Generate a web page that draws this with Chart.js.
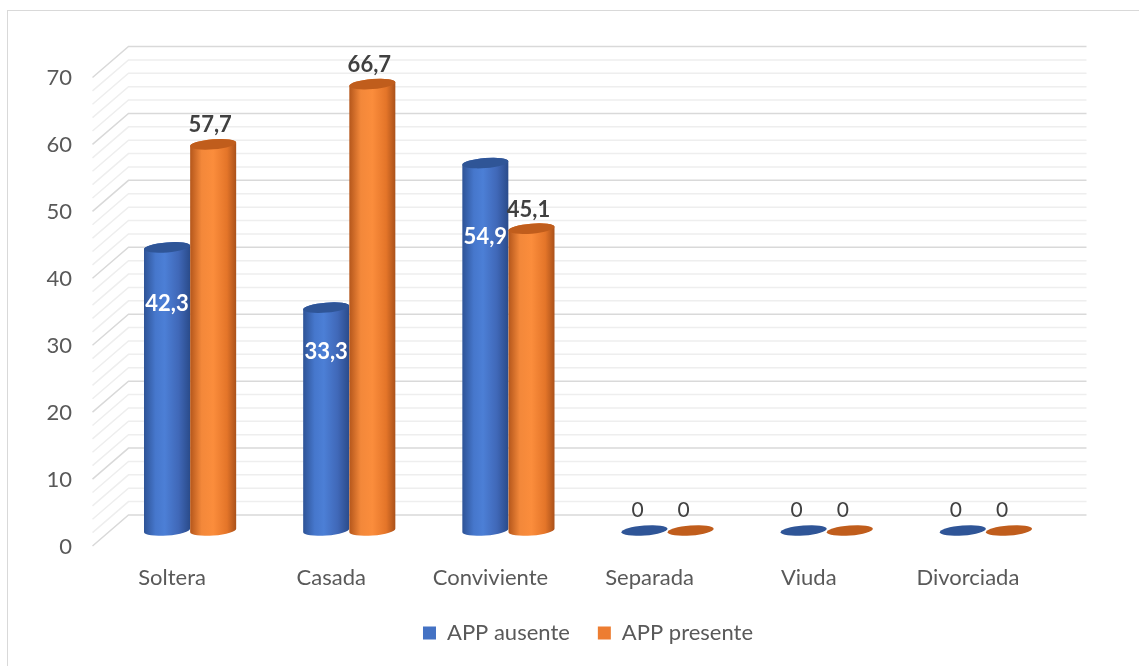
<!DOCTYPE html>
<html>
<head>
<meta charset="utf-8">
<script src="https://cdn.jsdelivr.net/npm/chart.js@4.4.0/dist/chart.umd.min.js"></script>
<style>
  html, body { margin: 0; padding: 0; background: #fff; overflow: hidden; }
  #frame { position: absolute; left: 7px; top: 10px; width: 1200px; height: 700px; border: 1px solid #d9d9d9; }
  #wrap { position: absolute; left: 0; top: 0; width: 1139px; height: 666px; }
</style>
</head>
<body>
<div id="frame"></div>
<div id="wrap"><canvas id="chart"></canvas></div>
<script>
const categories = ["Soltera", "Casada", "Conviviente", "Separada", "Viuda", "Divorciada"];
const appAusente = [42.3, 33.3, 54.9, 0, 0, 0];
const appPresente = [57.7, 66.7, 45.1, 0, 0, 0];
const seriesNames = ["APP ausente", "APP presente"];
const yMax = 70;
const yStep = 10;
const yMinorStep = 2;

const textColor = "#595959";
const fontFamily = "Lato, 'Open Sans', sans-serif";

// colours for the cylinders: side gradient + cap
const palettes = [
  {
    legend: "#4472c4",
    cap: "#2f5597",
    body: [[0, "#2e5396"], [0.25, "#4677cc"], [0.45, "#4c7fd6"], [0.75, "#4068b8"], [1, "#2a4b8a"]]
  },
  {
    legend: "#ed7d31",
    cap: "#c05d1c",
    body: [[0, "#b4561b"], [0.25, "#f3883a"], [0.5, "#fb8d3c"], [0.8, "#e47529"], [1, "#aa511a"]]
  }
];

// half depth of the 3D box (back wall / front edge offset)
const depth = { dx: 18, dy: 15.5 };

function fmt(v) {
  return v === 0 ? "0" : v.toFixed(1).replace(".", ",");
}

function drawCylinder(ctx, x, top, base, w, pal) {
  const rx = w / 2, ry = 5, tilt = -0.08;
  if (base - top > 0.5) {
    const g = ctx.createLinearGradient(x - rx, 0, x + rx, 0);
    pal.body.forEach(([o, c]) => g.addColorStop(o, c));
    ctx.fillStyle = g;
    ctx.beginPath();
    ctx.ellipse(x, base, rx, ry, tilt, 0, Math.PI);
    ctx.ellipse(x, top, rx, ry, tilt, Math.PI, Math.PI * 2);
    ctx.closePath();
    ctx.fill();
  }
  ctx.fillStyle = pal.cap;
  ctx.beginPath();
  ctx.ellipse(x, top, rx, ry, tilt, 0, Math.PI * 2);
  ctx.fill();
}

const cylinder3d = {
  id: "cylinder3d",
  beforeDatasetsDraw(chart) {
    const { ctx, chartArea: a, scales: { y } } = chart;
    ctx.save();
    ctx.lineWidth = 1.5;
    for (let v = 0; v <= yMax; v += yMinorStep) {
      const py = y.getPixelForValue(v);
      ctx.strokeStyle = v % yStep === 0 ? "#d9d9d9" : "#eeeeee";
      ctx.beginPath();
      ctx.moveTo(a.left - depth.dx, py + depth.dy);
      ctx.lineTo(a.left + depth.dx, py - depth.dy);
      ctx.lineTo(a.right + depth.dx + 3, py - depth.dy);
      ctx.stroke();
    }
    ctx.restore();
  },
  afterDatasetsDraw(chart) {
    const { ctx, scales: { y } } = chart;
    ctx.save();
    chart.data.datasets.forEach((ds, di) => {
      const meta = chart.getDatasetMeta(di);
      meta.data.forEach((bar) => {
        const p = bar.getProps(["x", "y", "base", "width"], true);
        drawCylinder(ctx, p.x, p.y, p.base, p.width, palettes[di]);
      });
    });
    // data labels
    ctx.textAlign = "center";
    ctx.textBaseline = "middle";
    chart.data.datasets.forEach((ds, di) => {
      const meta = chart.getDatasetMeta(di);
      meta.data.forEach((bar, i) => {
        const v = ds.data[i];
        const p = bar.getProps(["x", "y", "base"], true);
        if (v === 0) {
          ctx.font = "21px " + fontFamily;
          ctx.fillStyle = "#404040";
          ctx.fillText(fmt(v), p.x - 7, p.base - 20);
        } else if (di === 0) {
          ctx.font = "bold 22px " + fontFamily;
          ctx.fillStyle = "#ffffff";
          ctx.fillText(fmt(v), p.x, y.getPixelForValue(v * 0.8));
        } else {
          ctx.font = "bold 22px " + fontFamily;
          ctx.fillStyle = "#404040";
          ctx.fillText(fmt(v), p.x - 3, p.y - 19);
        }
      });
    });
    ctx.restore();
  }
};

new Chart(document.getElementById("chart"), {
  type: "bar",
  data: {
    labels: categories,
    datasets: [
      { label: seriesNames[0], data: appAusente, backgroundColor: "rgba(0,0,0,0)" },
      { label: seriesNames[1], data: appPresente, backgroundColor: "rgba(0,0,0,0)" }
    ]
  },
  options: {
    responsive: true,
    maintainAspectRatio: false,
    animation: false,
    layout: { padding: { left: 0, right: 73.5, top: 62, bottom: 12 } },
    datasets: { bar: { categoryPercentage: 0.58, barPercentage: 1.0 } },
    scales: {
      x: {
        grid: { display: false, drawTicks: false },
        border: { display: false },
        ticks: { color: textColor, font: { family: fontFamily, size: 22 }, padding: 34, labelOffset: -18 },
        afterFit: (scale) => { scale.height = 63.5; }
      },
      y: {
        min: 0,
        max: yMax,
        grid: { display: false, drawTicks: false },
        border: { display: false },
        ticks: { stepSize: yStep, color: textColor, font: { family: fontFamily, size: 22 }, padding: 38.5, labelOffset: 16 },
        afterFit: (scale) => { scale.width = 110.5; }
      }
    },
    plugins: {
      tooltip: { enabled: false },
      legend: {
        position: "bottom",
        fullSize: false,
        labels: {
          color: textColor,
          font: { family: fontFamily, size: 22 },
          boxWidth: 13,
          boxHeight: 13,
          padding: 28,
          generateLabels: (chart) => chart.data.datasets.map((ds, i) => ({
            text: ds.label,
            fillStyle: palettes[i].legend,
            strokeStyle: palettes[i].legend,
            lineWidth: 0,
            fontColor: textColor,
            datasetIndex: i
          }))
        }
      }
    }
  },
  plugins: [cylinder3d]
});
</script>
</body>
</html>
